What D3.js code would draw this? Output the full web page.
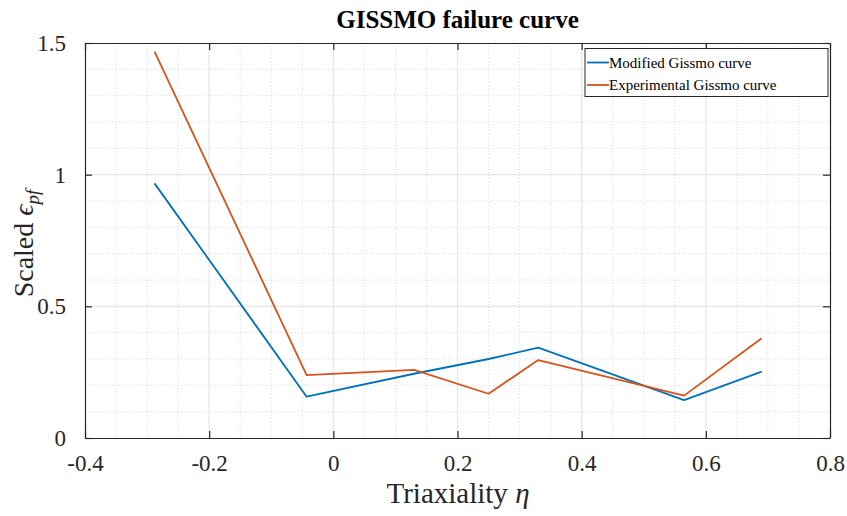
<!DOCTYPE html>
<html>
<head>
<meta charset="utf-8">
<script src="https://cdn.jsdelivr.net/npm/d3@7"></script>
<style>
  html, body { margin: 0; padding: 0; background: #fff; }
  svg { display: block; }
</style>
</head>
<body>
<svg id="chart" width="847" height="516"></svg>
<script>
// Triaxiality sample points and the two scaled failure-strain curves
const triaxiality = [-0.288, -0.043, 0.13, 0.25, 0.33, 0.565, 0.69];
const modifiedCurve = [0.967, 0.157, 0.244, 0.300, 0.343, 0.144, 0.252];
const experimentalCurve = [1.467, 0.239, 0.259, 0.168, 0.296, 0.161, 0.379];
const seriesNames = ["Modified Gissmo curve", "Experimental Gissmo curve"];
const seriesColors = ["#0072BD", "#D95319"];
const xTicks = [-0.4, -0.2, 0, 0.2, 0.4, 0.6, 0.8];
const yTicks = [0, 0.5, 1, 1.5];

const svg = d3.select("#chart");
const m = { left: 85, right: 830, top: 43, bottom: 438 };
const x = d3.scaleLinear().domain([-0.4, 0.8]).range([m.left, m.right]);
const y = d3.scaleLinear().domain([0, 1.5]).range([m.bottom, m.top]);
const serif = "Liberation Serif, Times New Roman, serif";
const axisColor = "#262626";

// minor grid (dotted)
const xMinor = d3.range(-0.4, 0.8001, 0.05).filter(v => Math.abs(Math.round(v * 5) - v * 5) > 1e-6);
const yMinor = d3.range(0, 1.5001, 0.1).filter(v => Math.abs(Math.round(v * 2) - v * 2) > 1e-6);
const grid = svg.append("g");
grid.selectAll(".xm").data(xMinor).join("line")
  .attr("x1", d => x(d)).attr("x2", d => x(d)).attr("y1", m.top).attr("y2", m.bottom)
  .attr("stroke", "#dcdcdc").attr("stroke-width", 1).attr("stroke-dasharray", "1,2");
grid.selectAll(".ym").data(yMinor).join("line")
  .attr("y1", d => y(d)).attr("y2", d => y(d)).attr("x1", m.left).attr("x2", m.right)
  .attr("stroke", "#dcdcdc").attr("stroke-width", 1).attr("stroke-dasharray", "1,2");
// major grid (solid)
grid.selectAll(".xM").data(xTicks.slice(1, -1)).join("line")
  .attr("x1", d => x(d)).attr("x2", d => x(d)).attr("y1", m.top).attr("y2", m.bottom)
  .attr("stroke", "#e6e6e6").attr("stroke-width", 1.2);
grid.selectAll(".yM").data(yTicks.slice(1, -1)).join("line")
  .attr("y1", d => y(d)).attr("y2", d => y(d)).attr("x1", m.left).attr("x2", m.right)
  .attr("stroke", "#e6e6e6").attr("stroke-width", 1.2);

// curves
const line = d3.line().x(d => x(d[0])).y(d => y(d[1]));
[modifiedCurve, experimentalCurve].forEach((vals, i) => {
  svg.append("path")
    .datum(triaxiality.map((t, k) => [t, vals[k]]))
    .attr("d", line)
    .attr("fill", "none")
    .attr("stroke", seriesColors[i])
    .attr("stroke-width", 1.8)
    .attr("stroke-linejoin", "round");
});

// axes with inward ticks on all four sides
function styleAxis(g) {
  g.attr("font-family", serif).attr("font-size", 23);
  g.select(".domain").attr("stroke", axisColor).attr("stroke-width", 1.2);
  g.selectAll(".tick line").attr("stroke", axisColor).attr("stroke-width", 1.2);
  g.selectAll(".tick text").attr("fill", "#262626")
    .attr("font-family", serif).attr("font-size", 23);
}
const fmt = d => String(d);
svg.append("g").attr("transform", `translate(0,${m.bottom})`)
  .call(d3.axisBottom(x).tickValues(xTicks).tickFormat(fmt).tickSizeInner(-7).tickSizeOuter(0).tickPadding(17))
  .call(styleAxis);
svg.append("g").attr("transform", `translate(0,${m.top})`)
  .call(d3.axisTop(x).tickValues(xTicks).tickFormat("").tickSizeInner(-7).tickSizeOuter(0))
  .call(styleAxis);
svg.append("g").attr("transform", `translate(${m.left},0)`)
  .call(d3.axisLeft(y).tickValues(yTicks).tickFormat(fmt).tickSizeInner(-7).tickSizeOuter(0).tickPadding(19))
  .call(styleAxis);
svg.append("g").attr("transform", `translate(${m.right},0)`)
  .call(d3.axisRight(y).tickValues(yTicks).tickFormat("").tickSizeInner(-7).tickSizeOuter(0))
  .call(styleAxis);

// title
svg.append("text")
  .attr("x", (m.left + m.right) / 2).attr("y", 28)
  .attr("text-anchor", "middle")
  .attr("font-family", serif).attr("font-weight", "bold").attr("font-size", 25)
  .attr("fill", "#000")
  .text("GISSMO failure curve");

// axis labels
const xl = svg.append("text")
  .attr("x", 458).attr("y", 503)
  .attr("text-anchor", "middle")
  .attr("font-family", serif).attr("font-size", 29).attr("fill", "#262626");
xl.append("tspan").text("Triaxiality ");
xl.append("tspan").attr("font-style", "italic").text("η");

const yl = svg.append("text")
  .attr("transform", `translate(33,${(m.top + m.bottom) / 2 + 3}) rotate(-90)`)
  .attr("text-anchor", "middle")
  .attr("font-family", serif).attr("font-size", 28).attr("fill", "#262626");
yl.append("tspan").text("Scaled ");
yl.append("tspan").attr("font-style", "italic").text("ϵ");
yl.append("tspan").attr("font-style", "italic").attr("font-size", 19).attr("dy", 6).text("pf");

// legend
const lg = svg.append("g");
lg.append("rect")
  .attr("x", 585).attr("y", 48.5).attr("width", 243).attr("height", 48)
  .attr("fill", "#fff").attr("stroke", axisColor).attr("stroke-width", 1);
seriesNames.forEach((name, i) => {
  const cy = 62.5 + i * 22.5;
  lg.append("line").attr("x1", 587).attr("x2", 609).attr("y1", cy).attr("y2", cy)
    .attr("stroke", seriesColors[i]).attr("stroke-width", 1.8);
  lg.append("text").attr("x", 609).attr("y", cy + 5)
    .attr("font-family", serif).attr("font-size", 15).attr("fill", "#000")
    .text(name);
});
</script>
</body>
</html>
